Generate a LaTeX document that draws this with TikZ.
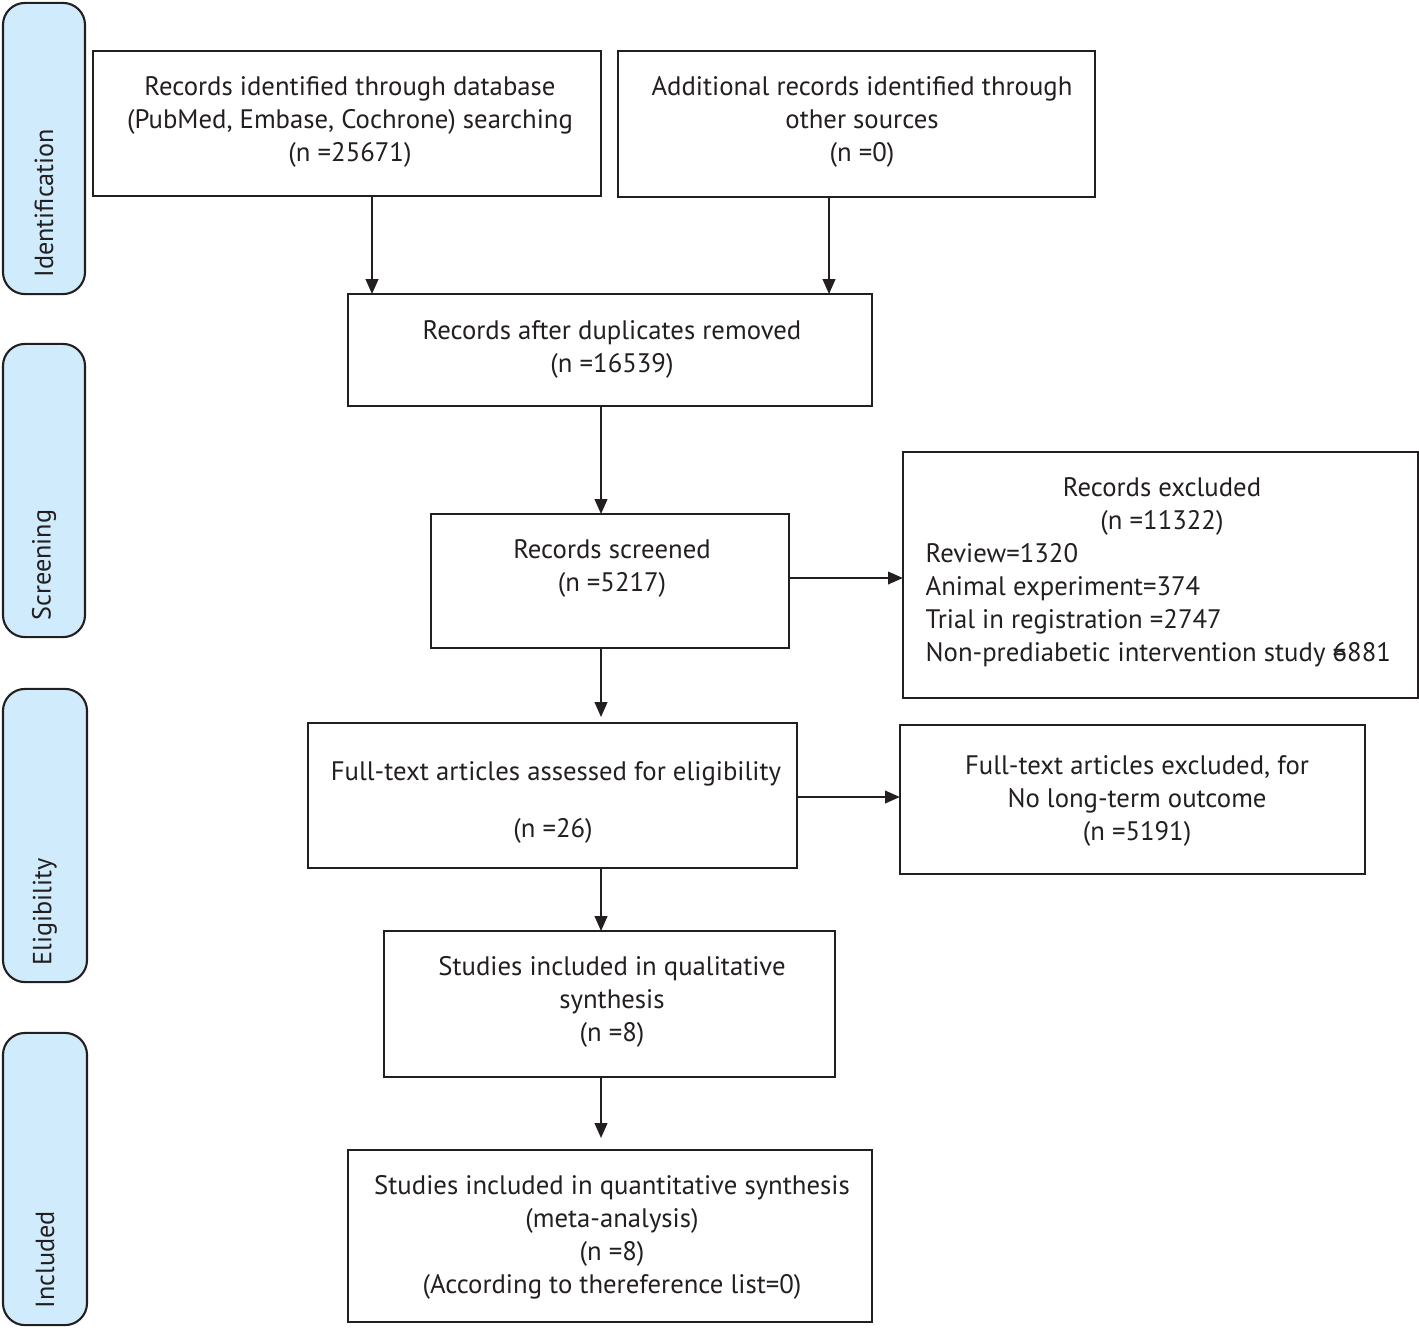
\documentclass[tikz,border=0pt]{standalone}
\usepackage{fontspec}
\setmainfont{PT Sans}
\usetikzlibrary{arrows.meta}
\definecolor{sidefill}{HTML}{D0EBFB}
\definecolor{ink}{HTML}{231F20}
\tikzset{
  box/.style={draw=ink, line width=0.6pt, inner sep=0pt, outer sep=0pt, fill=white},
  side/.style={draw=ink, line width=0.6pt, rounded corners=0.22cm, fill=sidefill, inner sep=0pt, outer sep=0pt},
  txt/.style={align=center, inner sep=0pt, text=ink, font=\fontsize{7.6}{9.39}\selectfont},
  txtl/.style={align=left, inner sep=0pt, text=ink, font=\fontsize{7.6}{9.39}\selectfont},
  sidetxt/.style={rotate=90, anchor=west, inner sep=0pt, text=ink, font=\fontsize{7.45}{9}\selectfont},
  arr/.style={draw=ink, line width=0.45pt, -{Triangle[width=3.6pt,length=4.2pt]}}
}
\begin{document}
\begin{tikzpicture}[x=0.01cm,y=-0.01cm]
\useasboundingbox (0,0) rectangle (1419,1327);
% side bars
\node[side, minimum width=0.82cm, minimum height=2.91cm] (s1) at (44,148.5) {};
\node[side, minimum width=0.82cm, minimum height=2.93cm] (s2) at (44,490.5) {};
\node[side, minimum width=0.84cm, minimum height=2.93cm] (s3) at (45,835.5) {};
\node[side, minimum width=0.84cm, minimum height=2.92cm] (s4) at (45,1179) {};
\node[sidetxt] (t1) at ([yshift=0.16cm]s1.south) {Identification};
\node[sidetxt] (t2) at ([yshift=0.16cm]s2.south) {Screening};
\node[sidetxt] (t3) at ([yshift=0.16cm]s3.south) {Eligibility};
\node[sidetxt] (t4) at ([yshift=0.16cm]s4.south) {Included};
% boxes
\node[box, minimum width=5.08cm, minimum height=1.45cm] (b1) at (347,123.5) {};
\node[box, minimum width=4.77cm, minimum height=1.46cm] (b2) at (856.5,124) {};
\node[box, minimum width=5.24cm, minimum height=1.12cm] (b3) at (610,350) {};
\node[box, minimum width=3.58cm, minimum height=1.34cm] (b4) at (610,581) {};
\node[box, minimum width=5.15cm, minimum height=2.46cm] (b5) at (1160.5,575) {};
\node[box, minimum width=4.89cm, minimum height=1.45cm] (b6) at (552.5,795.5) {};
\node[box, minimum width=4.65cm, minimum height=1.49cm] (b7) at (1132.5,799.5) {};
\node[box, minimum width=4.51cm, minimum height=1.46cm] (b8) at (609.5,1004) {};
\node[box, minimum width=5.24cm, minimum height=1.72cm] (b9) at (610,1236) {};
% texts
\node[txt] (x1) at (350,122) {Records identified through database\\(PubMed, Embase, Cochrone) searching\\(n =25671)};
\node[txt] (x2) at (862,122) {Additional records identified through\\other sources\\(n =0)};
\node[txt] (x3) at (612,349) {Records after duplicates removed\\(n =16539)};
\node[txt] (x4) at (612,568) {Records screened\\(n =5217)};
\node[txt] (x5a) at (1162,506.5) {Records excluded\\(n =11322)};
\node[txtl, anchor=west] (x5b) at (925,605) {Review=1320\\Animal experiment=374\\Trial in registration =2747\\Non-prediabetic intervention study \makebox[0pt][l]{=}6881};
\node[txt] (x6a) at (556,774) {Full-text articles assessed for eligibility};
\node[txt] (x6b) at (553,831) {(n =26)};
\node[txt] (x7) at (1137,801) {Full-text articles excluded, for\\No long-term outcome\\(n =5191)};
\node[txt] (x8) at (612,1002) {Studies included in qualitative\\synthesis\\(n =8)};
\node[txt] (x9) at (612,1237.5) {Studies included in quantitative synthesis\\(meta-analysis)\\(n =8)\\(According to thereference list=0)};
% connectors
\coordinate (c1) at (372,0);
\coordinate (c2) at (829,0);
\coordinate (c3) at (601,0);
\coordinate (r1) at (0,578);
\coordinate (r2) at (0,797);
\draw[arr] (b1.south -| c1) -- (b3.north -| c1);
\draw[arr] (b2.south -| c2) -- (b3.north -| c2);
\draw[arr] (b3.south -| c3) -- (b4.north -| c3);
\draw[arr] (b4.east |- r1) -- (b5.west |- r1);
\draw[arr, shorten >=0.06cm] (b4.south -| c3) -- (b6.north -| c3);
\draw[arr] (b6.east |- r2) -- (b7.west |- r2);
\draw[arr] (b6.south -| c3) -- (b8.north -| c3);
\draw[arr, shorten >=0.12cm] (b8.south -| c3) -- (b9.north -| c3);
\end{tikzpicture}
\end{document}
